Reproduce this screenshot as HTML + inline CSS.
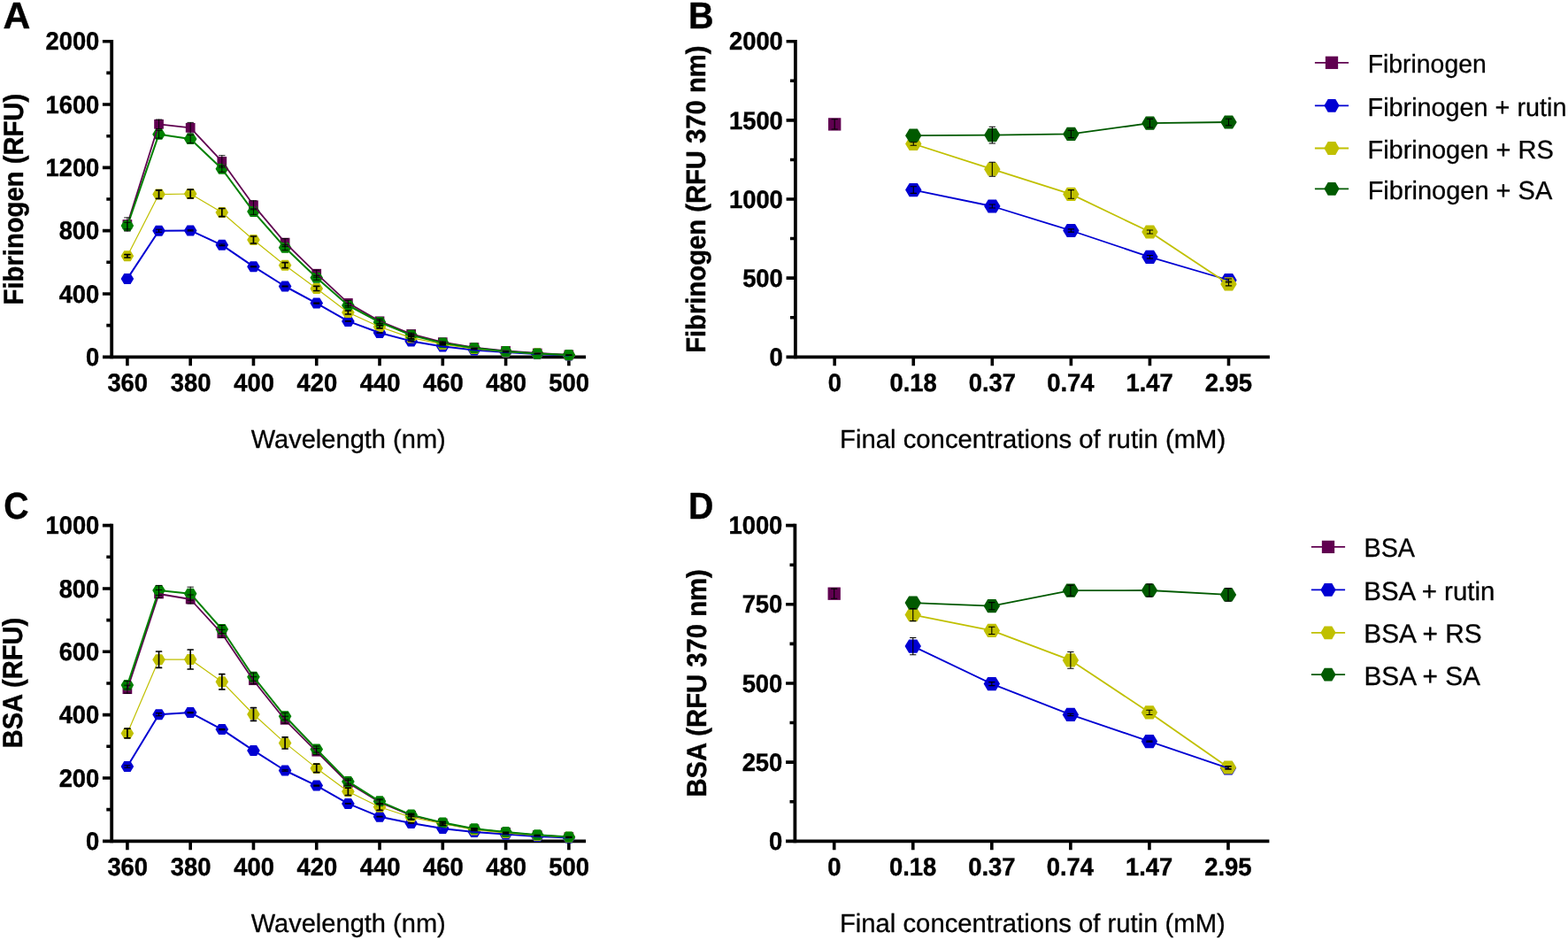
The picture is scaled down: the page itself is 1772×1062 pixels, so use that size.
<!DOCTYPE html>
<html lang="en">
<head>
<meta charset="utf-8">
<title>Fluorescence quenching of fibrinogen and BSA by rutin</title>
<style>
html,body{margin:0;padding:0;background:#fff;}
body{width:1772px;height:1062px;overflow:hidden;}
svg{display:block;font-family:"Liberation Sans",sans-serif;fill:#000;text-rendering:geometricPrecision;}
text{stroke:#000;stroke-width:0.3px;stroke-linejoin:round;}
text[font-weight=bold]{stroke-width:0.4px;}
</style>
</head>
<body>
<svg width="1772" height="1062" viewBox="0 0 1772 1062">
<rect width="1772" height="1062" fill="#fff"/>
<g id="panel-a">
<text transform="translate(3.56 31.85) scale(1.0412 1.03)" font-size="41" font-weight="bold">A</text>
<g stroke="#000" fill="none">
<path stroke-width="3.8" d="M126.2 44.9V405.2"/>
<path stroke-width="3.8" d="M116 403.3H662"/>
<path stroke-width="3.6" d="M115.9 46.7H126.2M115.9 118.02H126.2M115.9 189.34H126.2M115.9 260.66H126.2M115.9 331.98H126.2M120.3 82.36H126.2M120.3 153.68H126.2M120.3 225H126.2M120.3 296.32H126.2M120.3 367.64H126.2M143.9 403.3V413.3M215.18 403.3V413.3M286.46 403.3V413.3M357.74 403.3V413.3M429.02 403.3V413.3M500.3 403.3V413.3M571.58 403.3V413.3M642.86 403.3V413.3"/>
</g>
<text transform="translate(51.41 56.35) scale(1 1.04)" font-size="27.4" font-weight="bold">2000</text>
<text transform="translate(51.41 127.67) scale(1 1.04)" font-size="27.4" font-weight="bold">1600</text>
<text transform="translate(51.41 198.99) scale(1 1.04)" font-size="27.4" font-weight="bold">1200</text>
<text transform="translate(66.64 270.31) scale(1 1.04)" font-size="27.4" font-weight="bold">800</text>
<text transform="translate(66.64 341.63) scale(1 1.04)" font-size="27.4" font-weight="bold">400</text>
<text transform="translate(97.12 412.95) scale(1 1.04)" font-size="27.4" font-weight="bold">0</text>
<text transform="translate(121.38 442.1) scale(1 1.04)" font-size="27.4" font-weight="bold">360</text>
<text transform="translate(192.66 442.1) scale(1 1.04)" font-size="27.4" font-weight="bold">380</text>
<text transform="translate(264.16 442.1) scale(1 1.04)" font-size="27.4" font-weight="bold">400</text>
<text transform="translate(335.44 442.1) scale(1 1.04)" font-size="27.4" font-weight="bold">420</text>
<text transform="translate(406.72 442.1) scale(1 1.04)" font-size="27.4" font-weight="bold">440</text>
<text transform="translate(478 442.1) scale(1 1.04)" font-size="27.4" font-weight="bold">460</text>
<text transform="translate(549.28 442.1) scale(1 1.04)" font-size="27.4" font-weight="bold">480</text>
<text transform="translate(620.34 442.1) scale(1 1.04)" font-size="27.4" font-weight="bold">500</text>
<text transform="translate(25.5 344.39) rotate(-90) scale(0.9973 1.065)" font-size="29.3" font-weight="bold">Fibrinogen (RFU)</text>
<text transform="translate(283.69 505.55) scale(0.9953 1)" font-size="29.2">Wavelength (nm)</text>
<rect x="138.55" y="248.15" width="10.7" height="10.7" fill="#600050"/>
<rect x="174.19" y="134.95" width="10.7" height="10.7" fill="#600050"/>
<rect x="209.83" y="138.95" width="10.7" height="10.7" fill="#600050"/>
<rect x="245.47" y="177.05" width="10.7" height="10.7" fill="#600050"/>
<rect x="281.11" y="226.45" width="10.7" height="10.7" fill="#600050"/>
<rect x="316.75" y="268.75" width="10.7" height="10.7" fill="#600050"/>
<rect x="352.39" y="303.85" width="10.7" height="10.7" fill="#600050"/>
<rect x="388.03" y="337.05" width="10.7" height="10.7" fill="#600050"/>
<rect x="423.67" y="357.45" width="10.7" height="10.7" fill="#600050"/>
<rect x="459.31" y="372.05" width="10.7" height="10.7" fill="#600050"/>
<rect x="494.95" y="381.25" width="10.7" height="10.7" fill="#600050"/>
<rect x="530.59" y="387.25" width="10.7" height="10.7" fill="#600050"/>
<rect x="566.23" y="391.05" width="10.7" height="10.7" fill="#600050"/>
<rect x="601.87" y="393.65" width="10.7" height="10.7" fill="#600050"/>
<rect x="637.51" y="395.45" width="10.7" height="10.7" fill="#600050"/>
<polygon points="151.2,314.9 147.55,320.9 140.25,320.9 136.6,314.9 140.25,308.9 147.55,308.9" fill="#0000d2"/>
<polygon points="186.84,260.7 183.19,266.7 175.89,266.7 172.24,260.7 175.89,254.7 183.19,254.7" fill="#0000d2"/>
<polygon points="222.48,260.4 218.83,266.4 211.53,266.4 207.88,260.4 211.53,254.4 218.83,254.4" fill="#0000d2"/>
<polygon points="258.12,276.8 254.47,282.8 247.17,282.8 243.52,276.8 247.17,270.8 254.47,270.8" fill="#0000d2"/>
<polygon points="293.76,301.2 290.11,307.2 282.81,307.2 279.16,301.2 282.81,295.2 290.11,295.2" fill="#0000d2"/>
<polygon points="329.4,323.5 325.75,329.5 318.45,329.5 314.8,323.5 318.45,317.5 325.75,317.5" fill="#0000d2"/>
<polygon points="365.04,342.6 361.39,348.6 354.09,348.6 350.44,342.6 354.09,336.6 361.39,336.6" fill="#0000d2"/>
<polygon points="400.68,362.9 397.03,368.9 389.73,368.9 386.08,362.9 389.73,356.9 397.03,356.9" fill="#0000d2"/>
<polygon points="436.32,376 432.67,382 425.37,382 421.72,376 425.37,370 432.67,370" fill="#0000d2"/>
<polygon points="471.96,385.4 468.31,391.4 461.01,391.4 457.36,385.4 461.01,379.4 468.31,379.4" fill="#0000d2"/>
<polygon points="507.6,391.4 503.95,397.4 496.65,397.4 493,391.4 496.65,385.4 503.95,385.4" fill="#0000d2"/>
<polygon points="543.24,395.4 539.59,401.4 532.29,401.4 528.64,395.4 532.29,389.4 539.59,389.4" fill="#0000d2"/>
<polygon points="578.88,398.1 575.23,404.1 567.93,404.1 564.28,398.1 567.93,392.1 575.23,392.1" fill="#0000d2"/>
<polygon points="614.52,400 610.87,406 603.57,406 599.92,400 603.57,394 610.87,394" fill="#0000d2"/>
<polygon points="650.16,401.4 646.51,407.4 639.21,407.4 635.56,401.4 639.21,395.4 646.51,395.4" fill="#0000d2"/>
<polygon points="151.2,289.3 147.55,295.3 140.25,295.3 136.6,289.3 140.25,283.3 147.55,283.3" fill="#c0c000"/>
<polygon points="186.84,219.6 183.19,225.6 175.89,225.6 172.24,219.6 175.89,213.6 183.19,213.6" fill="#c0c000"/>
<polygon points="222.48,219 218.83,225 211.53,225 207.88,219 211.53,213 218.83,213" fill="#c0c000"/>
<polygon points="258.12,240.1 254.47,246.1 247.17,246.1 243.52,240.1 247.17,234.1 254.47,234.1" fill="#c0c000"/>
<polygon points="293.76,271 290.11,277 282.81,277 279.16,271 282.81,265 290.11,265" fill="#c0c000"/>
<polygon points="329.4,299.7 325.75,305.7 318.45,305.7 314.8,299.7 318.45,293.7 325.75,293.7" fill="#c0c000"/>
<polygon points="365.04,325.9 361.39,331.9 354.09,331.9 350.44,325.9 354.09,319.9 361.39,319.9" fill="#c0c000"/>
<polygon points="400.68,353 397.03,359 389.73,359 386.08,353 389.73,347 397.03,347" fill="#c0c000"/>
<polygon points="436.32,369.3 432.67,375.3 425.37,375.3 421.72,369.3 425.37,363.3 432.67,363.3" fill="#c0c000"/>
<polygon points="471.96,381.6 468.31,387.6 461.01,387.6 457.36,381.6 461.01,375.6 468.31,375.6" fill="#c0c000"/>
<polygon points="507.6,388.9 503.95,394.9 496.65,394.9 493,388.9 496.65,382.9 503.95,382.9" fill="#c0c000"/>
<polygon points="543.24,394.1 539.59,400.1 532.29,400.1 528.64,394.1 532.29,388.1 539.59,388.1" fill="#c0c000"/>
<polygon points="578.88,397.4 575.23,403.4 567.93,403.4 564.28,397.4 567.93,391.4 575.23,391.4" fill="#c0c000"/>
<polygon points="614.52,399.6 610.87,405.6 603.57,405.6 599.92,399.6 603.57,393.6 610.87,393.6" fill="#c0c000"/>
<polygon points="650.16,401.2 646.51,407.2 639.21,407.2 635.56,401.2 639.21,395.2 646.51,395.2" fill="#c0c000"/>
<polygon points="151.2,255.1 147.55,261.1 140.25,261.1 136.6,255.1 140.25,249.1 147.55,249.1" fill="#008000"/>
<polygon points="186.84,151.7 183.19,157.7 175.89,157.7 172.24,151.7 175.89,145.7 183.19,145.7" fill="#008000"/>
<polygon points="222.48,157 218.83,163 211.53,163 207.88,157 211.53,151 218.83,151" fill="#008000"/>
<polygon points="258.12,190.8 254.47,196.8 247.17,196.8 243.52,190.8 247.17,184.8 254.47,184.8" fill="#008000"/>
<polygon points="293.76,239.1 290.11,245.1 282.81,245.1 279.16,239.1 282.81,233.1 290.11,233.1" fill="#008000"/>
<polygon points="329.4,279.7 325.75,285.7 318.45,285.7 314.8,279.7 318.45,273.7 325.75,273.7" fill="#008000"/>
<polygon points="365.04,313.8 361.39,319.8 354.09,319.8 350.44,313.8 354.09,307.8 361.39,307.8" fill="#008000"/>
<polygon points="400.68,345 397.03,351 389.73,351 386.08,345 389.73,339 397.03,339" fill="#008000"/>
<polygon points="436.32,364 432.67,370 425.37,370 421.72,364 425.37,358 432.67,358" fill="#008000"/>
<polygon points="471.96,378.7 468.31,384.7 461.01,384.7 457.36,378.7 461.01,372.7 468.31,372.7" fill="#008000"/>
<polygon points="507.6,387.6 503.95,393.6 496.65,393.6 493,387.6 496.65,381.6 503.95,381.6" fill="#008000"/>
<polygon points="543.24,393.3 539.59,399.3 532.29,399.3 528.64,393.3 532.29,387.3 539.59,387.3" fill="#008000"/>
<polygon points="578.88,397 575.23,403 567.93,403 564.28,397 567.93,391 575.23,391" fill="#008000"/>
<polygon points="614.52,399.4 610.87,405.4 603.57,405.4 599.92,399.4 603.57,393.4 610.87,393.4" fill="#008000"/>
<polygon points="650.16,401 646.51,407 639.21,407 635.56,401 639.21,395 646.51,395" fill="#008000"/>
<polyline points="143.9,253.5 179.54,140.3 215.18,144.3 250.82,182.4 286.46,231.8 322.1,274.1 357.74,309.2 393.38,342.4 429.02,362.8 464.66,377.4 500.3,386.6 535.94,392.6 571.58,396.4 607.22,399 642.86,400.8" fill="none" stroke="#600050" stroke-width="1.8" stroke-linejoin="round"/>
<polyline points="143.9,314.9 179.54,260.7 215.18,260.4 250.82,276.8 286.46,301.2 322.1,323.5 357.74,342.6 393.38,362.9 429.02,376 464.66,385.4 500.3,391.4 535.94,395.4 571.58,398.1 607.22,400 642.86,401.4" fill="none" stroke="#0000d2" stroke-width="2" stroke-linejoin="round"/>
<polyline points="143.9,289.3 179.54,219.6 215.18,219 250.82,240.1 286.46,271 322.1,299.7 357.74,325.9 393.38,353 429.02,369.3 464.66,381.6 500.3,388.9 535.94,394.1 571.58,397.4 607.22,399.6 642.86,401.2" fill="none" stroke="#c0c000" stroke-width="1.2" stroke-linejoin="round"/>
<polyline points="143.9,255.1 179.54,151.7 215.18,157 250.82,190.8 286.46,239.1 322.1,279.7 357.74,313.8 393.38,345 429.02,364 464.66,378.7 500.3,387.6 535.94,393.3 571.58,397 607.22,399.4 642.86,401" fill="none" stroke="#008000" stroke-width="2" stroke-linejoin="round"/>
<g stroke-linecap="round">
<path d="M143.9 245.9V261.1M140.6 245.9H147.2M140.6 261.1H147.2" stroke="#000" stroke-width="0.9" fill="none"/>
<path d="M179.54 135.1V145.5M176.24 135.1H182.84M176.24 145.5H182.84" stroke="#000" stroke-width="0.9" fill="none"/>
<path d="M215.18 138.4V150.2M211.88 138.4H218.48M211.88 150.2H218.48" stroke="#000" stroke-width="0.9" fill="none"/>
<path d="M250.82 175.7V189.1M247.52 175.7H254.12M247.52 189.1H254.12" stroke="#000" stroke-width="0.9" fill="none"/>
<path d="M286.46 226.8V236.8M283.16 226.8H289.76M283.16 236.8H289.76" stroke="#000" stroke-width="0.9" fill="none"/>
<path d="M322.1 269.6V278.6M318.8 269.6H325.4M318.8 278.6H325.4" stroke="#000" stroke-width="0.9" fill="none"/>
<path d="M357.74 305.2V313.2M354.44 305.2H361.04M354.44 313.2H361.04" stroke="#000" stroke-width="0.9" fill="none"/>
<path d="M393.38 339.4V345.4M390.08 339.4H396.68M390.08 345.4H396.68" stroke="#000" stroke-width="0.9" fill="none"/>
<path d="M429.02 360.3V365.3M425.72 360.3H432.32M425.72 365.3H432.32" stroke="#000" stroke-width="0.9" fill="none"/>
<path d="M464.66 376.2V378.6M461.36 376.2H467.96M461.36 378.6H467.96" stroke="#000" stroke-width="0.9" fill="none"/>
<path d="M500.3 386V387.2M497 386H503.6M497 387.2H503.6" stroke="#000" stroke-width="0.9" fill="none"/>





<path d="M179.54 259.2V262.2M176.44 259.2H182.64M176.44 262.2H182.64" stroke="#000" stroke-width="1.1" fill="none"/>
<path d="M215.18 259.8V261M212.08 259.8H218.28M212.08 261H218.28" stroke="#000" stroke-width="1.1" fill="none"/>
<path d="M250.82 276V277.6M247.72 276H253.92M247.72 277.6H253.92" stroke="#000" stroke-width="1.1" fill="none"/>
<path d="M286.46 300.7V301.7M283.36 300.7H289.56M283.36 301.7H289.56" stroke="#000" stroke-width="1.1" fill="none"/>
<path d="M322.1 323V324M319 323H325.2M319 324H325.2" stroke="#000" stroke-width="1.1" fill="none"/>
<path d="M357.74 342.1V343.1M354.64 342.1H360.84M354.64 343.1H360.84" stroke="#000" stroke-width="1.1" fill="none"/>
<path d="M393.38 362.6V363.2M390.28 362.6H396.48M390.28 363.2H396.48" stroke="#000" stroke-width="1.1" fill="none"/>
<path d="M429.02 375.7V376.3M425.92 375.7H432.12M425.92 376.3H432.12" stroke="#000" stroke-width="1.1" fill="none"/>
<path d="M464.66 385.1V385.7M461.56 385.1H467.76M461.56 385.7H467.76" stroke="#000" stroke-width="1.1" fill="none"/>





<path d="M143.9 287.6V291M140.9 287.6H146.9M140.9 291H146.9" stroke="#000" stroke-width="1.7" fill="none"/>
<path d="M179.54 214.8V224.4M176.54 214.8H182.54M176.54 224.4H182.54" stroke="#000" stroke-width="1.7" fill="none"/>
<path d="M215.18 214.2V223.8M212.18 214.2H218.18M212.18 223.8H218.18" stroke="#000" stroke-width="1.7" fill="none"/>
<path d="M250.82 235.5V244.7M247.82 235.5H253.82M247.82 244.7H253.82" stroke="#000" stroke-width="1.7" fill="none"/>
<path d="M286.46 267V275M283.46 267H289.46M283.46 275H289.46" stroke="#000" stroke-width="1.7" fill="none"/>
<path d="M322.1 296.7V302.7M319.1 296.7H325.1M319.1 302.7H325.1" stroke="#000" stroke-width="1.7" fill="none"/>
<path d="M357.74 323.3V328.5M354.74 323.3H360.74M354.74 328.5H360.74" stroke="#000" stroke-width="1.7" fill="none"/>
<path d="M393.38 351V355M390.38 351H396.38M390.38 355H396.38" stroke="#000" stroke-width="1.7" fill="none"/>
<path d="M429.02 367.7V370.9M426.02 367.7H432.02M426.02 370.9H432.02" stroke="#000" stroke-width="1.7" fill="none"/>
<path d="M464.66 380.4V382.8M461.66 380.4H467.66M461.66 382.8H467.66" stroke="#000" stroke-width="1.7" fill="none"/>
<path d="M500.3 388.2V389.6M497.3 388.2H503.3M497.3 389.6H503.3" stroke="#000" stroke-width="1.7" fill="none"/>
<path d="M535.94 393.7V394.5M532.94 393.7H538.94M532.94 394.5H538.94" stroke="#000" stroke-width="1.7" fill="none"/>
<path d="M571.58 397.2V397.6M568.58 397.2H574.58M568.58 397.6H574.58" stroke="#000" stroke-width="1.7" fill="none"/>
<path d="M604.22 399.6H610.22" stroke="#000" stroke-width="1.7" fill="none"/>
<path d="M639.86 401.2H645.86" stroke="#000" stroke-width="1.7" fill="none"/>
<path d="M143.9 251.3V258.9M140.6 251.3H147.2M140.6 258.9H147.2" stroke="#000" stroke-width="0.9" fill="none"/>
<path d="M179.54 147.3V156.1M176.24 147.3H182.84M176.24 156.1H182.84" stroke="#000" stroke-width="0.9" fill="none"/>
<path d="M215.18 152.4V161.6M211.88 152.4H218.48M211.88 161.6H218.48" stroke="#000" stroke-width="0.9" fill="none"/>
<path d="M250.82 187.3V194.3M247.52 187.3H254.12M247.52 194.3H254.12" stroke="#000" stroke-width="0.9" fill="none"/>
<path d="M286.46 235.9V242.3M283.16 235.9H289.76M283.16 242.3H289.76" stroke="#000" stroke-width="0.9" fill="none"/>
<path d="M322.1 276.7V282.7M318.8 276.7H325.4M318.8 282.7H325.4" stroke="#000" stroke-width="0.9" fill="none"/>
<path d="M357.74 311.3V316.3M354.44 311.3H361.04M354.44 316.3H361.04" stroke="#000" stroke-width="0.9" fill="none"/>
<path d="M393.38 342.8V347.2M390.08 342.8H396.68M390.08 347.2H396.68" stroke="#000" stroke-width="0.9" fill="none"/>
<path d="M429.02 362.2V365.8M425.72 362.2H432.32M425.72 365.8H432.32" stroke="#000" stroke-width="0.9" fill="none"/>
<path d="M464.66 377.7V379.7M461.36 377.7H467.96M461.36 379.7H467.96" stroke="#000" stroke-width="0.9" fill="none"/>
<path d="M500.3 387.1V388.1M497 387.1H503.6M497 388.1H503.6" stroke="#000" stroke-width="0.9" fill="none"/>




</g>
</g>
<g id="panel-b">
<text transform="translate(777.94 31.85) scale(0.9637 1.03)" font-size="41" font-weight="bold">B</text>
<g stroke="#000" fill="none">
<path stroke-width="3.8" d="M898.9 44.9V405.2"/>
<path stroke-width="3.8" d="M888.5 403.3H1434.9"/>
<path stroke-width="3.6" d="M888.6 46.7H898.9M888.6 135.85H898.9M888.6 225H898.9M888.6 314.15H898.9M893 91.28H898.9M893 180.43H898.9M893 269.57H898.9M893 358.73H898.9M943.2 403.3V413.3M1032.26 403.3V413.3M1121.32 403.3V413.3M1210.38 403.3V413.3M1299.44 403.3V413.3M1388.5 403.3V413.3"/>
</g>
<text transform="translate(823.91 56.35) scale(1 1.04)" font-size="27.4" font-weight="bold">2000</text>
<text transform="translate(823.91 145.5) scale(1 1.04)" font-size="27.4" font-weight="bold">1500</text>
<text transform="translate(823.91 234.65) scale(1 1.04)" font-size="27.4" font-weight="bold">1000</text>
<text transform="translate(839.14 323.8) scale(1 1.04)" font-size="27.4" font-weight="bold">500</text>
<text transform="translate(869.62 412.95) scale(1 1.04)" font-size="27.4" font-weight="bold">0</text>
<text transform="translate(935.71 442.1) scale(1 1.04)" font-size="27.4" font-weight="bold">0</text>
<text transform="translate(1005.51 442.1) scale(1 1.04)" font-size="27.4" font-weight="bold">0.18</text>
<text transform="translate(1094.78 442.1) scale(1 1.04)" font-size="27.4" font-weight="bold">0.37</text>
<text transform="translate(1183.2 442.1) scale(1 1.04)" font-size="27.4" font-weight="bold">0.74</text>
<text transform="translate(1272.47 442.1) scale(1 1.04)" font-size="27.4" font-weight="bold">1.47</text>
<text transform="translate(1361.75 442.1) scale(1 1.04)" font-size="27.4" font-weight="bold">2.95</text>
<text transform="translate(796.6 398.85) rotate(-90) scale(0.9971 1.05)" font-size="29.3" font-weight="bold">Fibrinogen (RFU 370 nm)</text>
<text transform="translate(949.03 505.55) scale(1.0035 1)" font-size="29.2">Final concentrations of rutin (mM)</text>
<rect x="936.05" y="133.25" width="14.3" height="14.3" fill="#600050"/>
<polygon points="1041.46,214.6 1036.86,222.2 1027.66,222.2 1023.06,214.6 1027.66,207 1036.86,207" fill="#0000d2"/>
<polygon points="1130.52,233 1125.92,240.6 1116.72,240.6 1112.12,233 1116.72,225.4 1125.92,225.4" fill="#0000d2"/>
<polygon points="1219.58,260.5 1214.98,268.1 1205.78,268.1 1201.18,260.5 1205.78,252.9 1214.98,252.9" fill="#0000d2"/>
<polygon points="1308.64,290.3 1304.04,297.9 1294.84,297.9 1290.24,290.3 1294.84,282.7 1304.04,282.7" fill="#0000d2"/>
<polygon points="1397.7,316.5 1393.1,324.1 1383.9,324.1 1379.3,316.5 1383.9,308.9 1393.1,308.9" fill="#0000d2"/>
<polygon points="1041.46,162.5 1036.86,170.1 1027.66,170.1 1023.06,162.5 1027.66,154.9 1036.86,154.9" fill="#c0c000"/>
<polygon points="1130.52,191.2 1125.92,198.8 1116.72,198.8 1112.12,191.2 1116.72,183.6 1125.92,183.6" fill="#c0c000"/>
<polygon points="1219.58,219.4 1214.98,227 1205.78,227 1201.18,219.4 1205.78,211.8 1214.98,211.8" fill="#c0c000"/>
<polygon points="1308.64,262 1304.04,269.6 1294.84,269.6 1290.24,262 1294.84,254.4 1304.04,254.4" fill="#c0c000"/>
<polygon points="1397.7,320.9 1393.1,328.5 1383.9,328.5 1379.3,320.9 1383.9,313.3 1393.1,313.3" fill="#c0c000"/>
<polygon points="1041.46,153.2 1036.86,160.8 1027.66,160.8 1023.06,153.2 1027.66,145.6 1036.86,145.6" fill="#005a00"/>
<polygon points="1130.52,152.6 1125.92,160.2 1116.72,160.2 1112.12,152.6 1116.72,145 1125.92,145" fill="#005a00"/>
<polygon points="1219.58,151.4 1214.98,159 1205.78,159 1201.18,151.4 1205.78,143.8 1214.98,143.8" fill="#005a00"/>
<polygon points="1308.64,139.2 1304.04,146.8 1294.84,146.8 1290.24,139.2 1294.84,131.6 1304.04,131.6" fill="#005a00"/>
<polygon points="1397.7,138 1393.1,145.6 1383.9,145.6 1379.3,138 1383.9,130.4 1393.1,130.4" fill="#005a00"/>
<polyline points="1032.26,214.6 1121.32,233 1210.38,260.5 1299.44,290.3 1388.5,316.5" fill="none" stroke="#0000d2" stroke-width="1.8" stroke-linejoin="round"/>
<polyline points="1032.26,162.5 1121.32,191.2 1210.38,219.4 1299.44,262 1388.5,320.9" fill="none" stroke="#c0c000" stroke-width="1.8" stroke-linejoin="round"/>
<polyline points="1032.26,153.2 1121.32,152.6 1210.38,151.4 1299.44,139.2 1388.5,138" fill="none" stroke="#005a00" stroke-width="1.8" stroke-linejoin="round"/>
<g stroke-linecap="round">
<path d="M943.2 134.8V146M940 134.8H946.4M940 146H946.4" stroke="#000" stroke-width="1.1" fill="none"/>
<path d="M1032.26 210.8V218.4M1029.06 210.8H1035.46M1029.06 218.4H1035.46" stroke="#000" stroke-width="1.1" fill="none"/>
<path d="M1121.32 231V235M1118.12 231H1124.52M1118.12 235H1124.52" stroke="#000" stroke-width="1.1" fill="none"/>
<path d="M1210.38 258.9V262.1M1207.18 258.9H1213.58M1207.18 262.1H1213.58" stroke="#000" stroke-width="1.1" fill="none"/>
<path d="M1299.44 288.5V292.1M1296.24 288.5H1302.64M1296.24 292.1H1302.64" stroke="#000" stroke-width="1.1" fill="none"/>
<path d="M1388.5 315V318M1385.3 315H1391.7M1385.3 318H1391.7" stroke="#000" stroke-width="1.1" fill="none"/>
<path d="M1032.26 160.8V164.2M1029.06 160.8H1035.46M1029.06 164.2H1035.46" stroke="#000" stroke-width="1.1" fill="none"/>
<path d="M1121.32 183.2V199.2M1118.12 183.2H1124.52M1118.12 199.2H1124.52" stroke="#000" stroke-width="1.1" fill="none"/>
<path d="M1210.38 214.6V224.2M1207.18 214.6H1213.58M1207.18 224.2H1213.58" stroke="#000" stroke-width="1.1" fill="none"/>
<path d="M1299.44 260V264M1296.24 260H1302.64M1296.24 264H1302.64" stroke="#000" stroke-width="1.1" fill="none"/>
<path d="M1388.5 318.9V322.9M1385.3 318.9H1391.7M1385.3 322.9H1391.7" stroke="#000" stroke-width="1.1" fill="none"/>

<path d="M1121.32 143.2V162M1118.12 143.2H1124.52M1118.12 162H1124.52" stroke="#000" stroke-width="1.1" fill="none"/>
<path d="M1210.38 147.2V155.6M1207.18 147.2H1213.58M1207.18 155.6H1213.58" stroke="#000" stroke-width="1.1" fill="none"/>
<path d="M1299.44 134.4V144M1296.24 134.4H1302.64M1296.24 144H1302.64" stroke="#000" stroke-width="1.1" fill="none"/>
<path d="M1388.5 134.3V141.7M1385.3 134.3H1391.7M1385.3 141.7H1391.7" stroke="#000" stroke-width="1.1" fill="none"/>
</g>
<path d="M1485.9 70.8H1524.1" stroke="#600050" stroke-width="1.8" fill="none"/>
<rect x="1497.85" y="63.65" width="14.3" height="14.3" fill="#600050"/>
<text transform="translate(1545.71 82.2) scale(0.9777 1)" font-size="29">Fibrinogen</text>
<path d="M1485.9 119.3H1524.1" stroke="#0000d2" stroke-width="1.8" fill="none"/>
<polygon points="1513.6,119.3 1509.3,126.7 1500.7,126.7 1496.4,119.3 1500.7,111.9 1509.3,111.9" fill="#0000d2"/>
<text transform="translate(1545.54 130.5) scale(0.9931 1)" font-size="29">Fibrinogen + rutin</text>
<path d="M1485.9 167.5H1524.1" stroke="#c0c000" stroke-width="1.8" fill="none"/>
<polygon points="1513.6,167.5 1509.3,174.9 1500.7,174.9 1496.4,167.5 1500.7,160.1 1509.3,160.1" fill="#c0c000"/>
<text transform="translate(1545.44 179.15) scale(0.9996 1)" font-size="29">Fibrinogen + RS</text>
<path d="M1485.9 213.3H1524.1" stroke="#005a00" stroke-width="1.8" fill="none"/>
<polygon points="1513.6,213.3 1509.3,220.7 1500.7,220.7 1496.4,213.3 1500.7,205.9 1509.3,205.9" fill="#005a00"/>
<text transform="translate(1545.64 224.7) scale(0.9991 1)" font-size="29">Fibrinogen + SA</text>
</g>
<g id="panel-c">
<text transform="translate(4.37 586.2) scale(0.9547 1.03)" font-size="41" font-weight="bold">C</text>
<g stroke="#000" fill="none">
<path stroke-width="3.8" d="M126.2 591.8V952.2"/>
<path stroke-width="3.8" d="M116 950.3H662"/>
<path stroke-width="3.6" d="M115.9 593.6H126.2M115.9 664.94H126.2M115.9 736.28H126.2M115.9 807.62H126.2M115.9 878.96H126.2M120.3 629.27H126.2M120.3 700.61H126.2M120.3 771.95H126.2M120.3 843.29H126.2M120.3 914.63H126.2M143.9 950.3V960.3M215.18 950.3V960.3M286.46 950.3V960.3M357.74 950.3V960.3M429.02 950.3V960.3M500.3 950.3V960.3M571.58 950.3V960.3M642.86 950.3V960.3"/>
</g>
<text transform="translate(51.41 603.25) scale(1 1.04)" font-size="27.4" font-weight="bold">1000</text>
<text transform="translate(66.64 674.59) scale(1 1.04)" font-size="27.4" font-weight="bold">800</text>
<text transform="translate(66.64 745.93) scale(1 1.04)" font-size="27.4" font-weight="bold">600</text>
<text transform="translate(66.64 817.27) scale(1 1.04)" font-size="27.4" font-weight="bold">400</text>
<text transform="translate(66.64 888.61) scale(1 1.04)" font-size="27.4" font-weight="bold">200</text>
<text transform="translate(97.12 959.95) scale(1 1.04)" font-size="27.4" font-weight="bold">0</text>
<text transform="translate(121.38 989.1) scale(1 1.04)" font-size="27.4" font-weight="bold">360</text>
<text transform="translate(192.66 989.1) scale(1 1.04)" font-size="27.4" font-weight="bold">380</text>
<text transform="translate(264.16 989.1) scale(1 1.04)" font-size="27.4" font-weight="bold">400</text>
<text transform="translate(335.44 989.1) scale(1 1.04)" font-size="27.4" font-weight="bold">420</text>
<text transform="translate(406.72 989.1) scale(1 1.04)" font-size="27.4" font-weight="bold">440</text>
<text transform="translate(478 989.1) scale(1 1.04)" font-size="27.4" font-weight="bold">460</text>
<text transform="translate(549.28 989.1) scale(1 1.04)" font-size="27.4" font-weight="bold">480</text>
<text transform="translate(620.34 989.1) scale(1 1.04)" font-size="27.4" font-weight="bold">500</text>
<text transform="translate(24.8 845.35) rotate(-90) scale(0.9926 1.07)" font-size="29.3" font-weight="bold">BSA (RFU)</text>
<text transform="translate(283.69 1052.5) scale(0.9953 1)" font-size="29.2">Wavelength (nm)</text>
<rect x="138.55" y="773.35" width="10.7" height="10.7" fill="#600050"/>
<rect x="174.19" y="665.65" width="10.7" height="10.7" fill="#600050"/>
<rect x="209.83" y="671.65" width="10.7" height="10.7" fill="#600050"/>
<rect x="245.47" y="710.45" width="10.7" height="10.7" fill="#600050"/>
<rect x="281.11" y="763.35" width="10.7" height="10.7" fill="#600050"/>
<rect x="316.75" y="807.95" width="10.7" height="10.7" fill="#600050"/>
<rect x="352.39" y="843.85" width="10.7" height="10.7" fill="#600050"/>
<rect x="388.03" y="879.15" width="10.7" height="10.7" fill="#600050"/>
<rect x="423.67" y="900.95" width="10.7" height="10.7" fill="#600050"/>
<rect x="459.31" y="915.85" width="10.7" height="10.7" fill="#600050"/>
<rect x="494.95" y="924.65" width="10.7" height="10.7" fill="#600050"/>
<rect x="530.59" y="931.35" width="10.7" height="10.7" fill="#600050"/>
<rect x="566.23" y="935.05" width="10.7" height="10.7" fill="#600050"/>
<rect x="601.87" y="938.25" width="10.7" height="10.7" fill="#600050"/>
<rect x="637.51" y="940.25" width="10.7" height="10.7" fill="#600050"/>
<polygon points="151.2,866 147.55,872 140.25,872 136.6,866 140.25,860 147.55,860" fill="#0000d2"/>
<polygon points="186.84,807.2 183.19,813.2 175.89,813.2 172.24,807.2 175.89,801.2 183.19,801.2" fill="#0000d2"/>
<polygon points="222.48,805.1 218.83,811.1 211.53,811.1 207.88,805.1 211.53,799.1 218.83,799.1" fill="#0000d2"/>
<polygon points="258.12,824.1 254.47,830.1 247.17,830.1 243.52,824.1 247.17,818.1 254.47,818.1" fill="#0000d2"/>
<polygon points="293.76,847.9 290.11,853.9 282.81,853.9 279.16,847.9 282.81,841.9 290.11,841.9" fill="#0000d2"/>
<polygon points="329.4,870.5 325.75,876.5 318.45,876.5 314.8,870.5 318.45,864.5 325.75,864.5" fill="#0000d2"/>
<polygon points="365.04,887.6 361.39,893.6 354.09,893.6 350.44,887.6 354.09,881.6 361.39,881.6" fill="#0000d2"/>
<polygon points="400.68,907.9 397.03,913.9 389.73,913.9 386.08,907.9 389.73,901.9 397.03,901.9" fill="#0000d2"/>
<polygon points="436.32,922.7 432.67,928.7 425.37,928.7 421.72,922.7 425.37,916.7 432.67,916.7" fill="#0000d2"/>
<polygon points="471.96,929.9 468.31,935.9 461.01,935.9 457.36,929.9 461.01,923.9 468.31,923.9" fill="#0000d2"/>
<polygon points="507.6,936.1 503.95,942.1 496.65,942.1 493,936.1 496.65,930.1 503.95,930.1" fill="#0000d2"/>
<polygon points="543.24,939.9 539.59,945.9 532.29,945.9 528.64,939.9 532.29,933.9 539.59,933.9" fill="#0000d2"/>
<polygon points="578.88,942.4 575.23,948.4 567.93,948.4 564.28,942.4 567.93,936.4 575.23,936.4" fill="#0000d2"/>
<polygon points="614.52,945.1 610.87,951.1 603.57,951.1 599.92,945.1 603.57,939.1 610.87,939.1" fill="#0000d2"/>
<polygon points="650.16,946.4 646.51,952.4 639.21,952.4 635.56,946.4 639.21,940.4 646.51,940.4" fill="#0000d2"/>
<polygon points="151.2,828.5 147.55,834.5 140.25,834.5 136.6,828.5 140.25,822.5 147.55,822.5" fill="#c0c000"/>
<polygon points="186.84,745.2 183.19,751.2 175.89,751.2 172.24,745.2 175.89,739.2 183.19,739.2" fill="#c0c000"/>
<polygon points="222.48,745 218.83,751 211.53,751 207.88,745 211.53,739 218.83,739" fill="#c0c000"/>
<polygon points="258.12,770.3 254.47,776.3 247.17,776.3 243.52,770.3 247.17,764.3 254.47,764.3" fill="#c0c000"/>
<polygon points="293.76,807 290.11,813 282.81,813 279.16,807 282.81,801 290.11,801" fill="#c0c000"/>
<polygon points="329.4,839.4 325.75,845.4 318.45,845.4 314.8,839.4 318.45,833.4 325.75,833.4" fill="#c0c000"/>
<polygon points="365.04,867.9 361.39,873.9 354.09,873.9 350.44,867.9 354.09,861.9 361.39,861.9" fill="#c0c000"/>
<polygon points="400.68,894.3 397.03,900.3 389.73,900.3 386.08,894.3 389.73,888.3 397.03,888.3" fill="#c0c000"/>
<polygon points="436.32,911.8 432.67,917.8 425.37,917.8 421.72,911.8 425.37,905.8 432.67,905.8" fill="#c0c000"/>
<polygon points="471.96,923.3 468.31,929.3 461.01,929.3 457.36,923.3 461.01,917.3 468.31,917.3" fill="#c0c000"/>
<polygon points="507.6,930.5 503.95,936.5 496.65,936.5 493,930.5 496.65,924.5 503.95,924.5" fill="#c0c000"/>
<polygon points="543.24,937.4 539.59,943.4 532.29,943.4 528.64,937.4 532.29,931.4 539.59,931.4" fill="#c0c000"/>
<polygon points="578.88,941.1 575.23,947.1 567.93,947.1 564.28,941.1 567.93,935.1 575.23,935.1" fill="#c0c000"/>
<polygon points="614.52,944 610.87,950 603.57,950 599.92,944 603.57,938 610.87,938" fill="#c0c000"/>
<polygon points="650.16,945.8 646.51,951.8 639.21,951.8 635.56,945.8 639.21,939.8 646.51,939.8" fill="#c0c000"/>
<polygon points="151.2,774.1 147.55,780.1 140.25,780.1 136.6,774.1 140.25,768.1 147.55,768.1" fill="#008000"/>
<polygon points="186.84,666.9 183.19,672.9 175.89,672.9 172.24,666.9 175.89,660.9 183.19,660.9" fill="#008000"/>
<polygon points="222.48,670.7 218.83,676.7 211.53,676.7 207.88,670.7 211.53,664.7 218.83,664.7" fill="#008000"/>
<polygon points="258.12,711 254.47,717 247.17,717 243.52,711 247.17,705 254.47,705" fill="#008000"/>
<polygon points="293.76,764.7 290.11,770.7 282.81,770.7 279.16,764.7 282.81,758.7 290.11,758.7" fill="#008000"/>
<polygon points="329.4,809.3 325.75,815.3 318.45,815.3 314.8,809.3 318.45,803.3 325.75,803.3" fill="#008000"/>
<polygon points="365.04,846.5 361.39,852.5 354.09,852.5 350.44,846.5 354.09,840.5 361.39,840.5" fill="#008000"/>
<polygon points="400.68,882.9 397.03,888.9 389.73,888.9 386.08,882.9 389.73,876.9 397.03,876.9" fill="#008000"/>
<polygon points="436.32,905.3 432.67,911.3 425.37,911.3 421.72,905.3 425.37,899.3 432.67,899.3" fill="#008000"/>
<polygon points="471.96,920.6 468.31,926.6 461.01,926.6 457.36,920.6 461.01,914.6 468.31,914.6" fill="#008000"/>
<polygon points="507.6,929.4 503.95,935.4 496.65,935.4 493,929.4 496.65,923.4 503.95,923.4" fill="#008000"/>
<polygon points="543.24,936.2 539.59,942.2 532.29,942.2 528.64,936.2 532.29,930.2 539.59,930.2" fill="#008000"/>
<polygon points="578.88,940 575.23,946 567.93,946 564.28,940 567.93,934 575.23,934" fill="#008000"/>
<polygon points="614.52,943.3 610.87,949.3 603.57,949.3 599.92,943.3 603.57,937.3 610.87,937.3" fill="#008000"/>
<polygon points="650.16,945.4 646.51,951.4 639.21,951.4 635.56,945.4 639.21,939.4 646.51,939.4" fill="#008000"/>
<polyline points="143.9,778.7 179.54,671 215.18,677 250.82,715.8 286.46,768.7 322.1,813.3 357.74,849.2 393.38,884.5 429.02,906.3 464.66,921.2 500.3,930 535.94,936.7 571.58,940.4 607.22,943.6 642.86,945.6" fill="none" stroke="#600050" stroke-width="1.8" stroke-linejoin="round"/>
<polyline points="143.9,866 179.54,807.2 215.18,805.1 250.82,824.1 286.46,847.9 322.1,870.5 357.74,887.6 393.38,907.9 429.02,922.7 464.66,929.9 500.3,936.1 535.94,939.9 571.58,942.4 607.22,945.1 642.86,946.4" fill="none" stroke="#0000d2" stroke-width="2" stroke-linejoin="round"/>
<polyline points="143.9,828.5 179.54,745.2 215.18,745 250.82,770.3 286.46,807 322.1,839.4 357.74,867.9 393.38,894.3 429.02,911.8 464.66,923.3 500.3,930.5 535.94,937.4 571.58,941.1 607.22,944 642.86,945.8" fill="none" stroke="#c0c000" stroke-width="1.2" stroke-linejoin="round"/>
<polyline points="143.9,774.1 179.54,666.9 215.18,670.7 250.82,711 286.46,764.7 322.1,809.3 357.74,846.5 393.38,882.9 429.02,905.3 464.66,920.6 500.3,929.4 535.94,936.2 571.58,940 607.22,943.3 642.86,945.4" fill="none" stroke="#008000" stroke-width="2" stroke-linejoin="round"/>
<g stroke-linecap="round">
<path d="M143.9 774.2V783.2M140.6 774.2H147.2M140.6 783.2H147.2" stroke="#000" stroke-width="0.9" fill="none"/>
<path d="M179.54 666.5V675.5M176.24 666.5H182.84M176.24 675.5H182.84" stroke="#000" stroke-width="0.9" fill="none"/>
<path d="M215.18 672V682M211.88 672H218.48M211.88 682H218.48" stroke="#000" stroke-width="0.9" fill="none"/>
<path d="M250.82 711.3V720.3M247.52 711.3H254.12M247.52 720.3H254.12" stroke="#000" stroke-width="0.9" fill="none"/>
<path d="M286.46 764.7V772.7M283.16 764.7H289.76M283.16 772.7H289.76" stroke="#000" stroke-width="0.9" fill="none"/>
<path d="M322.1 809.3V817.3M318.8 809.3H325.4M318.8 817.3H325.4" stroke="#000" stroke-width="0.9" fill="none"/>
<path d="M357.74 845.7V852.7M354.44 845.7H361.04M354.44 852.7H361.04" stroke="#000" stroke-width="0.9" fill="none"/>
<path d="M393.38 881.5V887.5M390.08 881.5H396.68M390.08 887.5H396.68" stroke="#000" stroke-width="0.9" fill="none"/>
<path d="M429.02 903.8V908.8M425.72 903.8H432.32M425.72 908.8H432.32" stroke="#000" stroke-width="0.9" fill="none"/>
<path d="M464.66 919.7V922.7M461.36 919.7H467.96M461.36 922.7H467.96" stroke="#000" stroke-width="0.9" fill="none"/>
<path d="M500.3 929V931M497 929H503.6M497 931H503.6" stroke="#000" stroke-width="0.9" fill="none"/>
<path d="M535.94 936.2V937.2M532.64 936.2H539.24M532.64 937.2H539.24" stroke="#000" stroke-width="0.9" fill="none"/>



<path d="M143.9 864.8V867.2M140.8 864.8H147M140.8 867.2H147" stroke="#000" stroke-width="1.1" fill="none"/>
<path d="M179.54 805.6V808.8M176.44 805.6H182.64M176.44 808.8H182.64" stroke="#000" stroke-width="1.1" fill="none"/>
<path d="M215.18 804.6V805.6M212.08 804.6H218.28M212.08 805.6H218.28" stroke="#000" stroke-width="1.1" fill="none"/>
<path d="M250.82 823.6V824.6M247.72 823.6H253.92M247.72 824.6H253.92" stroke="#000" stroke-width="1.1" fill="none"/>

<path d="M322.1 869.7V871.3M319 869.7H325.2M319 871.3H325.2" stroke="#000" stroke-width="1.1" fill="none"/>
<path d="M357.74 887.1V888.1M354.64 887.1H360.84M354.64 888.1H360.84" stroke="#000" stroke-width="1.1" fill="none"/>
<path d="M393.38 907.6V908.2M390.28 907.6H396.48M390.28 908.2H396.48" stroke="#000" stroke-width="1.1" fill="none"/>
<path d="M429.02 922.4V923M425.92 922.4H432.12M425.92 923H432.12" stroke="#000" stroke-width="1.1" fill="none"/>
<path d="M464.66 929.6V930.2M461.56 929.6H467.76M461.56 930.2H467.76" stroke="#000" stroke-width="1.1" fill="none"/>





<path d="M143.9 823.2V833.8M140.9 823.2H146.9M140.9 833.8H146.9" stroke="#000" stroke-width="1.7" fill="none"/>
<path d="M179.54 736V754.4M176.54 736H182.54M176.54 754.4H182.54" stroke="#000" stroke-width="1.7" fill="none"/>
<path d="M215.18 734V756M212.18 734H218.18M212.18 756H218.18" stroke="#000" stroke-width="1.7" fill="none"/>
<path d="M250.82 761.7V778.9M247.82 761.7H253.82M247.82 778.9H253.82" stroke="#000" stroke-width="1.7" fill="none"/>
<path d="M286.46 799.7V814.3M283.46 799.7H289.46M283.46 814.3H289.46" stroke="#000" stroke-width="1.7" fill="none"/>
<path d="M322.1 832.8V846M319.1 832.8H325.1M319.1 846H325.1" stroke="#000" stroke-width="1.7" fill="none"/>
<path d="M357.74 863.2V872.6M354.74 863.2H360.74M354.74 872.6H360.74" stroke="#000" stroke-width="1.7" fill="none"/>
<path d="M393.38 890.1V898.5M390.38 890.1H396.38M390.38 898.5H396.38" stroke="#000" stroke-width="1.7" fill="none"/>
<path d="M429.02 908.2V915.4M426.02 908.2H432.02M426.02 915.4H432.02" stroke="#000" stroke-width="1.7" fill="none"/>
<path d="M464.66 920.7V925.9M461.66 920.7H467.66M461.66 925.9H467.66" stroke="#000" stroke-width="1.7" fill="none"/>
<path d="M500.3 928.5V932.5M497.3 928.5H503.3M497.3 932.5H503.3" stroke="#000" stroke-width="1.7" fill="none"/>
<path d="M535.94 936.4V938.4M532.94 936.4H538.94M532.94 938.4H538.94" stroke="#000" stroke-width="1.7" fill="none"/>
<path d="M571.58 940.3V941.9M568.58 940.3H574.58M568.58 941.9H574.58" stroke="#000" stroke-width="1.7" fill="none"/>
<path d="M607.22 943.5V944.5M604.22 943.5H610.22M604.22 944.5H610.22" stroke="#000" stroke-width="1.7" fill="none"/>
<path d="M642.86 945.5V946.1M639.86 945.5H645.86M639.86 946.1H645.86" stroke="#000" stroke-width="1.7" fill="none"/>
<path d="M143.9 769.6V778.6M140.6 769.6H147.2M140.6 778.6H147.2" stroke="#000" stroke-width="0.9" fill="none"/>
<path d="M179.54 661.4V672.4M176.24 661.4H182.84M176.24 672.4H182.84" stroke="#000" stroke-width="0.9" fill="none"/>
<path d="M215.18 663.2V678.2M211.88 663.2H218.48M211.88 678.2H218.48" stroke="#000" stroke-width="0.9" fill="none"/>
<path d="M250.82 706.5V715.5M247.52 706.5H254.12M247.52 715.5H254.12" stroke="#000" stroke-width="0.9" fill="none"/>
<path d="M286.46 760.2V769.2M283.16 760.2H289.76M283.16 769.2H289.76" stroke="#000" stroke-width="0.9" fill="none"/>
<path d="M322.1 805.3V813.3M318.8 805.3H325.4M318.8 813.3H325.4" stroke="#000" stroke-width="0.9" fill="none"/>
<path d="M357.74 843V850M354.44 843H361.04M354.44 850H361.04" stroke="#000" stroke-width="0.9" fill="none"/>
<path d="M393.38 879.9V885.9M390.08 879.9H396.68M390.08 885.9H396.68" stroke="#000" stroke-width="0.9" fill="none"/>
<path d="M429.02 902.8V907.8M425.72 902.8H432.32M425.72 907.8H432.32" stroke="#000" stroke-width="0.9" fill="none"/>
<path d="M464.66 919V922.2M461.36 919H467.96M461.36 922.2H467.96" stroke="#000" stroke-width="0.9" fill="none"/>
<path d="M500.3 928.4V930.4M497 928.4H503.6M497 930.4H503.6" stroke="#000" stroke-width="0.9" fill="none"/>
<path d="M535.94 935.7V936.7M532.64 935.7H539.24M532.64 936.7H539.24" stroke="#000" stroke-width="0.9" fill="none"/>



</g>
</g>
<g id="panel-d">
<text transform="translate(778.03 585.7) scale(0.9569 1.03)" font-size="41" font-weight="bold">D</text>
<g stroke="#000" fill="none">
<path stroke-width="3.8" d="M898.4 591.8V952.2"/>
<path stroke-width="3.8" d="M888 950.3H1434.4"/>
<path stroke-width="3.6" d="M888.1 593.6H898.4M888.1 682.77H898.4M888.1 771.95H898.4M888.1 861.12H898.4M892.5 638.19H898.4M892.5 727.36H898.4M892.5 816.54H898.4M892.5 905.71H898.4M942.7 950.3V960.3M1031.76 950.3V960.3M1120.82 950.3V960.3M1209.88 950.3V960.3M1298.94 950.3V960.3M1388 950.3V960.3"/>
</g>
<text transform="translate(823.41 603.25) scale(1 1.04)" font-size="27.4" font-weight="bold">1000</text>
<text transform="translate(838.64 692.42) scale(1 1.04)" font-size="27.4" font-weight="bold">750</text>
<text transform="translate(838.64 781.6) scale(1 1.04)" font-size="27.4" font-weight="bold">500</text>
<text transform="translate(838.64 870.77) scale(1 1.04)" font-size="27.4" font-weight="bold">250</text>
<text transform="translate(869.12 959.95) scale(1 1.04)" font-size="27.4" font-weight="bold">0</text>
<text transform="translate(935.21 989.1) scale(1 1.04)" font-size="27.4" font-weight="bold">0</text>
<text transform="translate(1005.01 989.1) scale(1 1.04)" font-size="27.4" font-weight="bold">0.18</text>
<text transform="translate(1094.28 989.1) scale(1 1.04)" font-size="27.4" font-weight="bold">0.37</text>
<text transform="translate(1182.7 989.1) scale(1 1.04)" font-size="27.4" font-weight="bold">0.74</text>
<text transform="translate(1271.97 989.1) scale(1 1.04)" font-size="27.4" font-weight="bold">1.47</text>
<text transform="translate(1361.25 989.1) scale(1 1.04)" font-size="27.4" font-weight="bold">2.95</text>
<text transform="translate(798.4 900.5) rotate(-90) scale(0.9982 1.065)" font-size="29.3" font-weight="bold">BSA (RFU 370 nm)</text>
<text transform="translate(948.91 1052.5) scale(1.0028 1)" font-size="29.2">Final concentrations of rutin (mM)</text>
<rect x="935.55" y="663.55" width="14.3" height="14.3" fill="#600050"/>
<polygon points="1040.96,730.1 1036.36,737.7 1027.16,737.7 1022.56,730.1 1027.16,722.5 1036.36,722.5" fill="#0000d2"/>
<polygon points="1130.02,772.6 1125.42,780.2 1116.22,780.2 1111.62,772.6 1116.22,765 1125.42,765" fill="#0000d2"/>
<polygon points="1219.08,807.4 1214.48,815 1205.28,815 1200.68,807.4 1205.28,799.8 1214.48,799.8" fill="#0000d2"/>
<polygon points="1308.14,837.6 1303.54,845.2 1294.34,845.2 1289.74,837.6 1294.34,830 1303.54,830" fill="#0000d2"/>
<polygon points="1397.2,867.8 1392.6,875.4 1383.4,875.4 1378.8,867.8 1383.4,860.2 1392.6,860.2" fill="#0000d2"/>
<polygon points="1040.96,694.6 1036.36,702.2 1027.16,702.2 1022.56,694.6 1027.16,687 1036.36,687" fill="#c0c000"/>
<polygon points="1130.02,712.4 1125.42,720 1116.22,720 1111.62,712.4 1116.22,704.8 1125.42,704.8" fill="#c0c000"/>
<polygon points="1219.08,745.9 1214.48,753.5 1205.28,753.5 1200.68,745.9 1205.28,738.3 1214.48,738.3" fill="#c0c000"/>
<polygon points="1308.14,804.9 1303.54,812.5 1294.34,812.5 1289.74,804.9 1294.34,797.3 1303.54,797.3" fill="#c0c000"/>
<polygon points="1397.2,867 1392.6,874.6 1383.4,874.6 1378.8,867 1383.4,859.4 1392.6,859.4" fill="#c0c000"/>
<polygon points="1040.96,681.1 1036.36,688.7 1027.16,688.7 1022.56,681.1 1027.16,673.5 1036.36,673.5" fill="#005a00"/>
<polygon points="1130.02,684.7 1125.42,692.3 1116.22,692.3 1111.62,684.7 1116.22,677.1 1125.42,677.1" fill="#005a00"/>
<polygon points="1219.08,667.2 1214.48,674.8 1205.28,674.8 1200.68,667.2 1205.28,659.6 1214.48,659.6" fill="#005a00"/>
<polygon points="1308.14,667 1303.54,674.6 1294.34,674.6 1289.74,667 1294.34,659.4 1303.54,659.4" fill="#005a00"/>
<polygon points="1397.2,671.9 1392.6,679.5 1383.4,679.5 1378.8,671.9 1383.4,664.3 1392.6,664.3" fill="#005a00"/>
<polyline points="1031.76,730.1 1120.82,772.6 1209.88,807.4 1298.94,837.6 1388,867.8" fill="none" stroke="#0000d2" stroke-width="1.8" stroke-linejoin="round"/>
<polyline points="1031.76,694.6 1120.82,712.4 1209.88,745.9 1298.94,804.9 1388,867" fill="none" stroke="#c0c000" stroke-width="1.8" stroke-linejoin="round"/>
<polyline points="1031.76,681.1 1120.82,684.7 1209.88,667.2 1298.94,667 1388,671.9" fill="none" stroke="#005a00" stroke-width="1.8" stroke-linejoin="round"/>
<g stroke-linecap="round">
<path d="M942.7 665.1V676.3M939.5 665.1H945.9M939.5 676.3H945.9" stroke="#000" stroke-width="1.1" fill="none"/>
<path d="M1031.76 720.5V739.7M1028.56 720.5H1034.96M1028.56 739.7H1034.96" stroke="#000" stroke-width="1.1" fill="none"/>
<path d="M1120.82 770.6V774.6M1117.62 770.6H1124.02M1117.62 774.6H1124.02" stroke="#000" stroke-width="1.1" fill="none"/>
<path d="M1209.88 806.2V808.6M1206.68 806.2H1213.08M1206.68 808.6H1213.08" stroke="#000" stroke-width="1.1" fill="none"/>
<path d="M1298.94 837V838.2M1295.74 837H1302.14M1295.74 838.2H1302.14" stroke="#000" stroke-width="1.1" fill="none"/>
<path d="M1388 866.3V869.3M1384.8 866.3H1391.2M1384.8 869.3H1391.2" stroke="#000" stroke-width="1.1" fill="none"/>
<path d="M1031.76 687.6V701.6M1028.56 687.6H1034.96M1028.56 701.6H1034.96" stroke="#000" stroke-width="1.1" fill="none"/>
<path d="M1120.82 708.3V716.5M1117.62 708.3H1124.02M1117.62 716.5H1124.02" stroke="#000" stroke-width="1.1" fill="none"/>
<path d="M1209.88 736.5V755.3M1206.68 736.5H1213.08M1206.68 755.3H1213.08" stroke="#000" stroke-width="1.1" fill="none"/>
<path d="M1298.94 802.3V807.5M1295.74 802.3H1302.14M1295.74 807.5H1302.14" stroke="#000" stroke-width="1.1" fill="none"/>
<path d="M1388 865.5V868.5M1384.8 865.5H1391.2M1384.8 868.5H1391.2" stroke="#000" stroke-width="1.1" fill="none"/>

<path d="M1120.82 680.6V688.8M1117.62 680.6H1124.02M1117.62 688.8H1124.02" stroke="#000" stroke-width="1.1" fill="none"/>
<path d="M1209.88 661.1V673.3M1206.68 661.1H1213.08M1206.68 673.3H1213.08" stroke="#000" stroke-width="1.1" fill="none"/>
<path d="M1298.94 659.9V674.1M1295.74 659.9H1302.14M1295.74 674.1H1302.14" stroke="#000" stroke-width="1.1" fill="none"/>
<path d="M1388 664.6V679.2M1384.8 664.6H1391.2M1384.8 679.2H1391.2" stroke="#000" stroke-width="1.1" fill="none"/>
</g>
<path d="M1481.9 617.9H1520.1" stroke="#600050" stroke-width="1.8" fill="none"/>
<rect x="1493.85" y="610.75" width="14.3" height="14.3" fill="#600050"/>
<text transform="translate(1541.46 629.3) scale(0.9913 1.03)" font-size="29">BSA</text>
<path d="M1481.9 666.4H1520.1" stroke="#0000d2" stroke-width="1.8" fill="none"/>
<polygon points="1509.6,666.4 1505.3,673.8 1496.7,673.8 1492.4,666.4 1496.7,659 1505.3,659" fill="#0000d2"/>
<text transform="translate(1541.32 677.6) scale(1.0148 1.02)" font-size="29">BSA + rutin</text>
<path d="M1481.9 714.8H1520.1" stroke="#c0c000" stroke-width="1.8" fill="none"/>
<polygon points="1509.6,714.8 1505.3,722.2 1496.7,722.2 1492.4,714.8 1496.7,707.4 1505.3,707.4" fill="#c0c000"/>
<text transform="translate(1541.32 726) scale(1.0272 1.03)" font-size="29">BSA + RS</text>
<path d="M1481.9 762.2H1520.1" stroke="#005a00" stroke-width="1.8" fill="none"/>
<polygon points="1509.6,762.2 1505.3,769.6 1496.7,769.6 1492.4,762.2 1496.7,754.8 1505.3,754.8" fill="#005a00"/>
<text transform="translate(1541.43 773.9) scale(1.0264 1.03)" font-size="29">BSA + SA</text>
</g>
</svg>
</body>
</html>
